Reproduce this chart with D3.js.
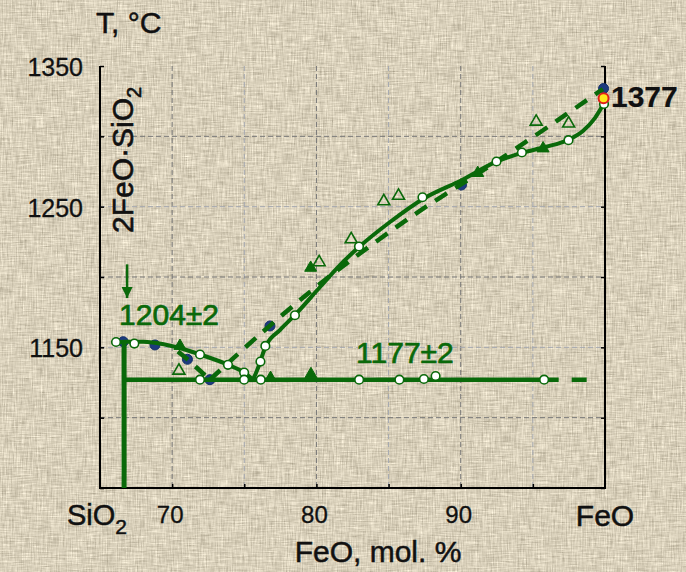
<!DOCTYPE html>
<html>
<head>
<meta charset="utf-8">
<script src="https://cdn.jsdelivr.net/npm/d3@7/dist/d3.min.js"></script>
<style>
  html, body { margin: 0; padding: 0; background: #d9d0bb; }
  svg { display: block; }
  text { font-family: "Liberation Sans", Arial, Helvetica, sans-serif; }
</style>
</head>
<body>
<svg id="chart" width="686" height="572"></svg>
<script>
// FeO–SiO2 system near the fayalite (2FeO·SiO2) – wüstite (FeO) join
// Composition in mol. % FeO, temperature in °C

const compTicks = [70, 75, 80, 85, 90, 95];
const compTickLabels = ["70", "", "80", "", "90", ""];
const tempTicks = [1400, 1350, 1300, 1250, 1200, 1150, 1100];
const tempTickLabels = ["1350", "", "1250", "", "1150", "", ""];

const fayaliteComp = 66.67;
const fayaliteMelt = 1204;
const eutecticTemp = 1177;
const feoMelt = 1377;

// liquidus, fayalite field (solid curve)
const liquidusFayalite = [
  [66.2, 1203.5], [66.67, 1204], [68.0, 1204], [69.5, 1202], [70.5, 1199.5],
  [71.9, 1195], [73.9, 1187.5], [75.0, 1182], [75.6, 1177]
];
// liquidus, wüstite field (solid curve)
const liquidusWustite = [
  [75.6, 1177], [75.95, 1185.3], [76.23, 1193.8], [76.5, 1201], [77.47, 1212.3],
  [78.51, 1223], [80.25, 1242.9], [81.63, 1258.5], [82.95, 1271.3], [85.1, 1289.1],
  [87.38, 1305.5], [90.09, 1319], [92.44, 1331.8], [94.24, 1338.2], [95.84, 1342.4],
  [97.43, 1347.4], [98.47, 1353.8], [99.3, 1363], [99.9, 1373]
];
// alternative liquidus (dashed curve)
const altLiquidusLeft = [[70.4, 1197], [71.06, 1191.5], [72.62, 1177]];
const altLiquidusRight = [
  [72.62, 1177], [75.95, 1208], [80.32, 1245.7], [86.55, 1292.7],
  [92.86, 1334.6], [99.86, 1383.6]
];
const eutecticSolid = [[fayaliteComp, eutecticTemp], [95.75, eutecticTemp]];
const eutecticDashed = [[95.75, eutecticTemp], [99.1, eutecticTemp]];

// experimental points
const openCircles = [
  [66.11, 1203.8], [67.38, 1202.7], [71.93, 1194.9], [73.87, 1187.6], [74.99, 1182.1],
  [71.93, 1177], [74.99, 1177], [76.14, 1177], [76.12, 1189.9], [76.46, 1201],
  [78.51, 1222.8], [82.95, 1271.7], [87.35, 1306.7], [92.48, 1332.1], [94.24, 1338.5],
  [97.47, 1347.3], [99.93, 1373], [82.96, 1177], [85.75, 1177], [87.45, 1177.5],
  [88.26, 1179.6], [95.78, 1177]
];
const blueCircles = [
  [66.61, 1204], [68.81, 1201.7], [71.06, 1191.5], [72.62, 1177], [76.78, 1215.2],
  [90.05, 1315.4], [99.9, 1384]
];
const openTriangles = [
  [70.47, 1183.4], [80.19, 1260.5], [82.41, 1276.8], [84.67, 1303.8], [85.69, 1307.7],
  [95.23, 1360.4], [97.48, 1359.1]
];
const filledTriangles = [
  [70.54, 1201], [76.82, 1178.2], [79.62, 1180.9], [79.6, 1256.5],
  [91.18, 1323.9], [95.71, 1341.4]
];
const feoMeltPoint = [[99.9, feoMelt]];

const GREEN = "#0a690a";
const BLUE = "#1d3a7e";
const INK = "#111";

const svg = d3.select("#chart");
const W = 686, H = 572;
const plot = { left: 100, right: 605, top: 66, bottom: 488 };

const x = d3.scaleLinear().domain([65, 100]).range([plot.left, plot.right]);
const y = d3.scaleLinear().domain([1100, 1400]).range([plot.bottom, plot.top]);

// linen-like backdrop: crossed streak noise tinted around the beige base
const defs = svg.append("defs");
const f = defs.append("filter").attr("id", "linen")
  .attr("x", 0).attr("y", 0).attr("width", "100%").attr("height", "100%")
  .attr("color-interpolation-filters", "sRGB");
f.append("feTurbulence").attr("type", "fractalNoise")
  .attr("baseFrequency", "0.8 0.06").attr("numOctaves", 3).attr("seed", 4).attr("result", "v");
f.append("feTurbulence").attr("type", "fractalNoise")
  .attr("baseFrequency", "0.06 0.8").attr("numOctaves", 3).attr("seed", 9).attr("result", "h");
f.append("feComposite").attr("in", "v").attr("in2", "h")
  .attr("operator", "arithmetic").attr("k1", 0).attr("k2", 0.5).attr("k3", 0.5).attr("k4", 0)
  .attr("result", "m");
f.append("feColorMatrix").attr("in", "m").attr("type", "matrix")
  .attr("values", [
    "0.5 0 0 0 0.60",
    "0.5 0 0 0 0.565",
    "0.5 0 0 0 0.48",
    "0 0 0 0 1"
  ].join(" "));

svg.append("rect").attr("width", W).attr("height", H).attr("fill", "#d9d0bb");
svg.append("rect").attr("width", W).attr("height", H).attr("filter", "url(#linen)");

// grid
const grid = svg.append("g");
grid.selectAll("line.gx").data(compTicks).join("line")
  .attr("x1", d => x(d)).attr("x2", d => x(d))
  .attr("y1", plot.top).attr("y2", plot.bottom)
  .attr("stroke", (d, i) => i % 2 ? "#a4a8b0" : "#777")
  .attr("stroke-width", 1).attr("stroke-dasharray", "5,3");
grid.selectAll("line.gy").data(tempTicks.slice(1, -1)).join("line")
  .attr("x1", plot.left).attr("x2", plot.right)
  .attr("y1", d => y(d)).attr("y2", d => y(d))
  .attr("stroke", (d, i) => i % 2 ? "#a4a8b0" : "#777")
  .attr("stroke-width", 1).attr("stroke-dasharray", "5,3");

// axes
const axisLeft = d3.axisRight(y).tickValues(tempTicks).tickSize(4).tickFormat("");
const axisRightG = d3.axisLeft(y).tickValues(tempTicks).tickSize(4).tickFormat("");
const axisBottom = d3.axisTop(x).tickValues(compTicks).tickSize(4).tickFormat("");

function styleAxis(g) {
  g.select(".domain").remove();
  g.selectAll(".tick line").attr("stroke", "#000").attr("stroke-width", 1.5);
}
svg.append("g").attr("transform", `translate(${plot.left},0)`).call(axisLeft).call(styleAxis);
svg.append("g").attr("transform", `translate(${plot.right},0)`).call(axisRightG).call(styleAxis);
svg.append("g").attr("transform", `translate(0,${plot.bottom})`).call(axisBottom).call(styleAxis);

svg.append("path")
  .attr("d", `M${plot.left},${plot.top}V${plot.bottom}H${plot.right}V${plot.top}`)
  .attr("fill", "none").attr("stroke", "#000").attr("stroke-width", 2);

// slightly heavier glyphs
function ink(sel, color, w) {
  return sel.attr("fill", color).attr("stroke", color).attr("stroke-width", w)
    .attr("stroke-linejoin", "round");
}

// tick labels
svg.append("g").selectAll("text").data(tempTicks).join("text")
  .attr("x", 83).attr("y", d => y(d)).attr("dy", "0.4em")
  .attr("text-anchor", "end").attr("font-size", 25)
  .call(ink, INK, 0.3)
  .text((d, i) => tempTickLabels[i]);
svg.append("g").selectAll("text").data(compTicks).join("text")
  .attr("x", d => x(d) - 2).attr("y", 523)
  .attr("text-anchor", "middle").attr("font-size", 24)
  .call(ink, INK, 0.3)
  .text((d, i) => compTickLabels[i]);

// axis titles and end-member labels
svg.append("text").attr("x", 96).attr("y", 33).attr("font-size", 30)
  .call(ink, INK, 0.5).text("T, °C");
const sio2 = svg.append("text").attr("x", 67).attr("y", 525).attr("font-size", 29)
  .call(ink, INK, 0.5);
sio2.append("tspan").text("SiO");
sio2.append("tspan").attr("font-size", 21).attr("dy", 9).text("2");
svg.append("text").attr("x", x(100)).attr("y", 526).attr("text-anchor", "middle")
  .attr("font-size", 30).call(ink, INK, 0.5).text("FeO");
svg.append("text").attr("x", 378).attr("y", 562).attr("text-anchor", "middle")
  .attr("font-size", 30).call(ink, INK, 0.5).text("FeO, mol. %");

const fay = svg.append("text")
  .attr("transform", `translate(133,233) rotate(-90)`)
  .attr("font-size", 30).call(ink, INK, 0.6);
fay.append("tspan").text("2FeO·SiO");
fay.append("tspan").attr("font-size", 20).attr("dy", 8).text("2");

// phase lines
const line = d3.line().x(d => x(d[0])).y(d => y(d[1]));
const smooth = d3.line().x(d => x(d[0])).y(d => y(d[1])).curve(d3.curveMonotoneX);
const catmull = d3.line().x(d => x(d[0])).y(d => y(d[1])).curve(d3.curveCatmullRom);

// blue points sit beneath the lines
svg.append("g").selectAll("circle").data(blueCircles).join("circle")
  .attr("cx", d => x(d[0])).attr("cy", d => y(d[1])).attr("r", 5)
  .attr("fill", BLUE).attr("stroke", "#14306a").attr("stroke-width", 1);

svg.append("path").datum(altLiquidusLeft).attr("d", line)
  .attr("fill", "none").attr("stroke", GREEN).attr("stroke-width", 4.5)
  .attr("stroke-dasharray", "13,10");
svg.append("path").datum(altLiquidusRight).attr("d", catmull)
  .attr("fill", "none").attr("stroke", GREEN).attr("stroke-width", 4.5)
  .attr("stroke-dasharray", "14,10");

svg.append("path").datum(liquidusFayalite).attr("d", smooth)
  .attr("fill", "none").attr("stroke", GREEN).attr("stroke-width", 4);
svg.append("path").datum(liquidusWustite).attr("d", smooth)
  .attr("fill", "none").attr("stroke", GREEN).attr("stroke-width", 4);

svg.append("path").datum(eutecticSolid).attr("d", line)
  .attr("fill", "none").attr("stroke", GREEN).attr("stroke-width", 4.5);
svg.append("path").datum(eutecticDashed).attr("d", line)
  .attr("fill", "none").attr("stroke", GREEN).attr("stroke-width", 4.5)
  .attr("stroke-dasharray", "15,13");

// fayalite composition line
svg.append("path").datum([[fayaliteComp, 1100], [fayaliteComp, fayaliteMelt]]).attr("d", line)
  .attr("fill", "none").attr("stroke", GREEN).attr("stroke-width", 5);

// arrow marking the fayalite melting point
defs.append("marker").attr("id", "arrowhead")
  .attr("viewBox", "0 0 10 10").attr("refX", 10).attr("refY", 5)
  .attr("markerWidth", 4.5).attr("markerHeight", 4.5).attr("orient", "auto")
  .append("path").attr("d", "M0,0L10,5L0,10Z").attr("fill", GREEN);
svg.append("line")
  .attr("x1", x(fayaliteComp) + 3).attr("x2", x(fayaliteComp) + 3)
  .attr("y1", y(1259)).attr("y2", y(1235))
  .attr("stroke", GREEN).attr("stroke-width", 2.5).attr("marker-end", "url(#arrowhead)");

// experimental markers
const tri = d3.symbol().type(d3.symbolTriangle).size(62);
svg.append("g").selectAll("path").data(openTriangles).join("path")
  .attr("transform", d => `translate(${x(d[0])},${y(d[1])})`).attr("d", tri)
  .attr("fill", "none").attr("stroke", GREEN).attr("stroke-width", 1.6);
svg.append("g").selectAll("path").data(filledTriangles).join("path")
  .attr("transform", d => `translate(${x(d[0])},${y(d[1])})`).attr("d", tri)
  .attr("fill", GREEN).attr("stroke", GREEN).attr("stroke-width", 1);
svg.append("g").selectAll("circle").data(openCircles).join("circle")
  .attr("cx", d => x(d[0])).attr("cy", d => y(d[1])).attr("r", 4.3)
  .attr("fill", "#ffffff").attr("stroke", GREEN).attr("stroke-width", 1.6);
svg.append("g").selectAll("circle").data(feoMeltPoint).join("circle")
  .attr("cx", d => x(d[0])).attr("cy", d => y(d[1])).attr("r", 5)
  .attr("fill", "#ffe81a").attr("stroke", "#e0201a").attr("stroke-width", 2);

// value labels
svg.append("text").attr("x", x(fayaliteComp) - 5).attr("y", y(fayaliteMelt) - 17)
  .attr("font-size", 30).call(ink, GREEN, 0.7).text(`${fayaliteMelt}±2`);
svg.append("text").attr("x", x(82.75)).attr("y", y(eutecticTemp) - 17)
  .attr("font-size", 30).call(ink, GREEN, 0.7).text(`${eutecticTemp}±2`);
svg.append("text").attr("x", x(100) + 6).attr("y", y(feoMelt) + 9)
  .attr("font-size", 30).attr("font-weight", "bold").call(ink, INK, 0.2).text(`${feoMelt}`);
</script>
</body>
</html>
